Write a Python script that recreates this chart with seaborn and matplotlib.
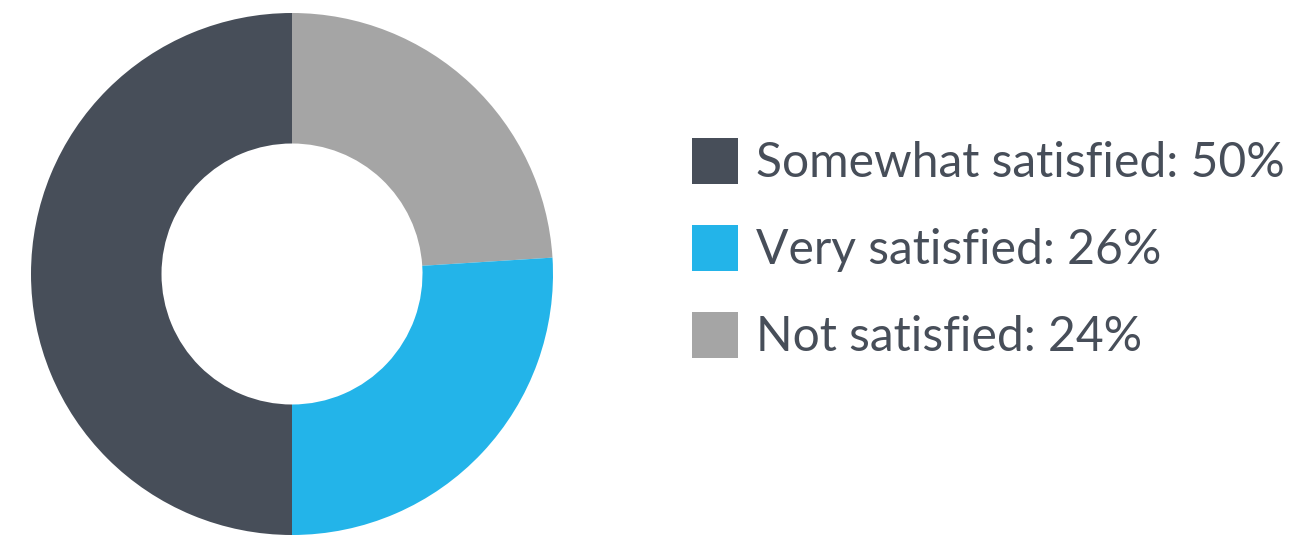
import matplotlib
matplotlib.use("Agg")
import matplotlib.pyplot as plt
from matplotlib.patches import Patch
import seaborn as sns

# Survey result shares, drawn clockwise from 12 o'clock
categories = ["Not satisfied", "Very satisfied", "Somewhat satisfied"]
shares = [24, 26, 50]
colors = ["#a5a5a5", "#23b4e9", "#474e59"]

# Legend order (top to bottom)
legend_order = ["Somewhat satisfied", "Very satisfied", "Not satisfied"]

sns.set_theme(style="white")
plt.rcParams["font.family"] = ["Lato", "DejaVu Sans"]

W, H, DPI = 1294, 537, 100
fig = plt.figure(figsize=(W / DPI, H / DPI), dpi=DPI)
fig.patch.set_facecolor("white")

cx, cy, r = 292, 274, 261
ax = fig.add_axes([(cx - r) / W, (H - cy - r) / H, 2 * r / W, 2 * r / H])
ax.pie(shares, colors=colors, startangle=90, counterclock=False,
       radius=1.0, wedgeprops=dict(width=0.5, linewidth=0))
ax.set_xlim(-1, 1)
ax.set_ylim(-1, 1)
ax.set_aspect("equal")
ax.axis("off")

lookup = dict(zip(categories, zip(shares, colors)))
handles = [Patch(facecolor=lookup[c][1], edgecolor="none") for c in legend_order]
labels = [f"{c}: {lookup[c][0]}%" for c in legend_order]

fs_pt = 34.6
fs_px = fs_pt * DPI / 72
box = 46  # legend swatch side in pixels
hh = (box - 0.245 * fs_px) / (0.65 * fs_px)
leg = fig.legend(handles, labels, loc="upper left",
                 bbox_to_anchor=(692 / W, 1 - 138 / H),
                 frameon=False, fontsize=fs_pt,
                 handlelength=box / fs_px, handleheight=hh,
                 handletextpad=18 / fs_px, labelspacing=0.825,
                 borderpad=0, borderaxespad=0, labelcolor="#474e59")

fig.savefig("out.png", dpi=DPI, facecolor="white")
